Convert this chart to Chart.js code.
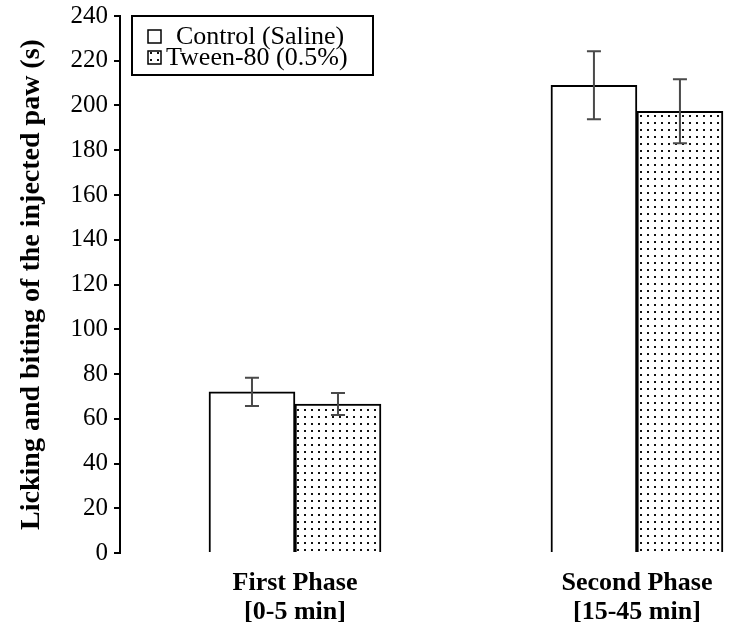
<!DOCTYPE html>
<html>
<head>
<meta charset="utf-8">
<script src="https://cdn.jsdelivr.net/npm/chart.js@4.4.1/dist/chart.umd.min.js"></script>
<style>
  html, body { margin: 0; padding: 0; background: #fff; }
  #c { display: block; }
</style>
</head>
<body>
<canvas id="c" width="754" height="642"></canvas>
<script>
// ---- data ----
const categories = [["First Phase", "[0-5 min]"], ["Second Phase", "[15-45 min]"]];
const categoryPositions = [0, 1];
const seriesNames = ["Control (Saline)", "Tween-80 (0.5%)"];
const controlValues = [72, 209];
const controlErrors = [6.3, 15.2];
const tweenValues = [66.6, 197.4];
const tweenErrors = [4.9, 14.3];
const yTicks = [0, 20, 40, 60, 80, 100, 120, 140, 160, 180, 200, 220, 240];
const yTitle = "Licking and biting of the injected paw (s)";

// ---- dotted pattern ----
function makeDots() {
  const pc = document.createElement('canvas');
  pc.width = 7; pc.height = 7;
  const p = pc.getContext('2d');
  p.fillStyle = '#fff'; p.fillRect(0, 0, 7, 7);
  p.fillStyle = '#111'; p.fillRect(3, 3, 2, 2);
  return document.createElement('canvas').getContext('2d').createPattern(pc, 'repeat');
}
const dots = makeDots();
const SERIF = "'Liberation Serif', 'Times New Roman', serif";

const errorBars = {
  id: 'errorBars',
  afterDatasetsDraw(chart) {
    const ctx = chart.ctx;
    const y = chart.scales.y;
    const errs = [controlErrors, tweenErrors];
    ctx.save();
    ctx.strokeStyle = '#4a4a4a';
    ctx.lineWidth = 2;
    chart.data.datasets.forEach((ds, i) => {
      const meta = chart.getDatasetMeta(i);
      meta.data.forEach((bar, j) => {
        const v = ds.data[j].y;
        const e = errs[i][j];
        const yt = y.getPixelForValue(v + e);
        const yb = y.getPixelForValue(v - e);
        const x = bar.x;
        ctx.beginPath();
        ctx.moveTo(x, yt); ctx.lineTo(x, yb);
        ctx.moveTo(x - 7, yt); ctx.lineTo(x + 7, yt);
        ctx.moveTo(x - 7, yb); ctx.lineTo(x + 7, yb);
        ctx.stroke();
      });
    });
    ctx.restore();
  }
};

const legendBox = {
  id: 'legendBox',
  afterDraw(chart) {
    const ctx = chart.ctx;
    const a = chart.chartArea;
    const left = a.left + 12, top = a.top, w = 241, h = 59;
    ctx.save();
    ctx.fillStyle = '#fff';
    ctx.fillRect(left, top, w, h);
    ctx.strokeStyle = '#000';
    ctx.lineWidth = 2;
    ctx.strokeRect(left, top, w, h);
    ctx.font = "26px " + SERIF;
    ctx.textBaseline = 'middle';
    chart.data.datasets.forEach((ds, i) => {
      const cy = top + 21 + i * 21;
      ctx.fillStyle = ds.backgroundColor;
      ctx.fillRect(left + 16, cy - 7, 13, 13);
      ctx.lineWidth = 1.5;
      ctx.strokeStyle = '#000';
      ctx.strokeRect(left + 16, cy - 7, 13, 13);
      ctx.fillStyle = '#000';
      ctx.fillText(ds.label, left + (i === 0 ? 44 : 34), cy);
    });
    ctx.restore();
  }
};

new Chart(document.getElementById('c'), {
  type: 'bar',
  data: {
    datasets: [
      {
        label: seriesNames[0],
        data: categoryPositions.map((x, i) => ({ x, y: controlValues[i] })),
        backgroundColor: '#ffffff',
        borderColor: '#000000',
        borderWidth: 2
      },
      {
        label: seriesNames[1],
        data: categoryPositions.map((x, i) => ({ x, y: tweenValues[i] })),
        backgroundColor: dots,
        borderColor: '#000000',
        borderWidth: 2
      }
    ]
  },
  options: {
    responsive: false,
    animation: false,
    barThickness: 86,
    layout: { padding: { left: 0, right: 9, top: 0, bottom: 0 } },
    plugins: {
      legend: { display: false },
      tooltip: { enabled: false }
    },
    scales: {
      x: {
        type: 'linear',
        offset: false,
        min: -0.5117,
        max: 1.316,
        afterBuildTicks(scale) { scale.ticks = categoryPositions.map(v => ({ value: v })); },
        afterFit(scale) { scale.height = 89; },
        grid: { display: false, drawTicks: false },
        border: { display: false },
        ticks: {
          autoSkip: false,
          maxRotation: 0,
          padding: 16,
          color: '#000',
          font: { family: SERIF, size: 26, weight: 'bold', lineHeight: 1.1 },
          callback: (v) => categories[categoryPositions.indexOf(v)]
        }
      },
      y: {
        min: 0,
        max: 240,
        afterBuildTicks(scale) { scale.ticks = yTicks.map(v => ({ value: v })); },
        afterFit(scale) { scale.width = 120; scale.paddingTop = 16; scale.paddingBottom = 0; },
        grid: { drawOnChartArea: false, drawTicks: true, tickLength: 6, color: '#000', lineWidth: 2 },
        border: { display: true, color: '#000', width: 2 },
        ticks: {
          padding: 6,
          color: '#000',
          font: { family: SERIF, size: 25 }
        },
        title: {
          display: true,
          text: yTitle,
          color: '#000',
          padding: { top: 15, bottom: 0 },
          font: { family: SERIF, size: 28, weight: 'bold' }
        }
      }
    }
  },
  plugins: [errorBars, legendBox]
});
</script>
</body>
</html>
